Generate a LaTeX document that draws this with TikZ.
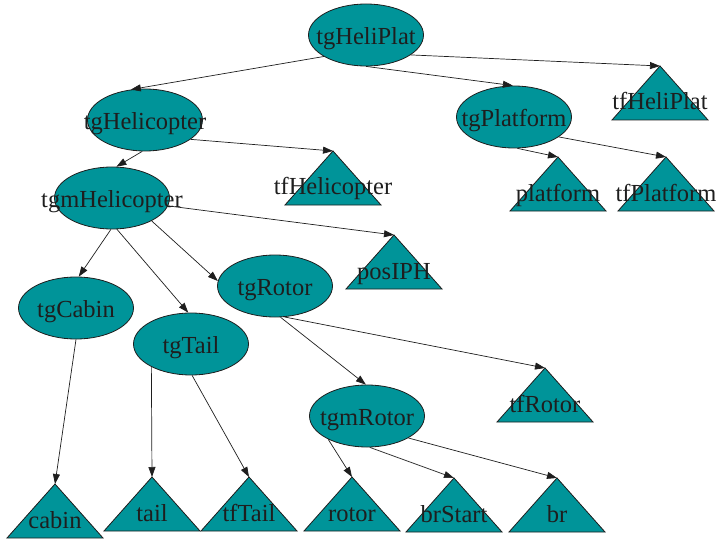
\documentclass[tikz,border=0pt]{standalone}
\usepackage{fontspec}
\setmainfont{Liberation Serif}
\usetikzlibrary{arrows.meta,calc,shapes.geometric}
\definecolor{tealfill}{RGB}{0,148,153}
\definecolor{ink}{RGB}{30,30,30}
\tikzset{
 ell/.style={ellipse,draw=ink,line width=0.8pt,fill=tealfill,minimum width=115pt,minimum height=62pt,inner sep=0pt},
 lbl/.style={font=\fontsize{24.5}{28}\selectfont,text=ink,inner sep=0pt,anchor=base},
 edge/.style={draw=ink,line width=0.7pt,-{Triangle[length=10pt,width=7pt]}},
 trishape/.style={fill=tealfill,draw=ink,line width=0.8pt,line join=miter}
}
\newcommand{\mktri}[4]{%
 \coordinate (#1) at (#2,#3);
 \path[trishape] (#1) -- ++(-48,54) -- ++(96,0) -- cycle;
 \node[lbl] (#1-t) at ($(#1)+(0,44)$) {#4};
}
\newcommand{\mkell}[4]{%
 \node[ell] (#1) at (#2,#3) {};
 \node[lbl] (#1-t) at ($(#1)+(0,9.5)$) {#4};
}
\begin{document}
\begin{tikzpicture}[x=1pt,y=-1pt]
\useasboundingbox (0,0) rectangle (717,540);
\mkell{tgHeliPlat}{366}{35}{tgHeliPlat}
\mkell{tgHelicopter}{145}{120}{tgHelicopter}
\mkell{tgPlatform}{514}{117}{tgPlatform}
\mkell{tgmHelicopter}{112}{198}{tgmHelicopter}
\mkell{tgRotor}{275}{286}{tgRotor}
\mkell{tgCabin}{76}{308}{tgCabin}
\mkell{tgTail}{191}{344}{tgTail}
\mkell{tgmRotor}{367}{416}{tgmRotor}
\mktri{tfHeliPlat}{660}{66}{tfHeliPlat}
\mktri{tfHelicopter}{333}{151}{tfHelicopter}
\mktri{platform}{558}{157}{platform}
\mktri{tfPlatform}{666}{157}{tfPlatform}
\mktri{posIPH}{394}{235}{posIPH}
\mktri{tfRotor}{545}{368}{tfRotor}
\mktri{cabin}{55}{484}{cabin}
\mktri{tail}{152}{477}{tail}
\mktri{tfTail}{249}{477}{tfTail}
\mktri{rotor}{352}{477}{rotor}
\mktri{brStart}{454}{478}{brStart}
\mktri{br}{557}{478}{br}
\draw[edge] (tgHeliPlat.207) -- (tgHelicopter.115);
\draw[edge] (tgHeliPlat.270) -- (tgPlatform.92);
\draw[edge] (tgHeliPlat.336) -- (tfHeliPlat);
\draw[edge] (tgHelicopter.265) -- (tgmHelicopter.82);
\draw[edge] (tgHelicopter.337) -- (tfHelicopter);
\draw[edge] (tgPlatform.276) -- (platform);
\draw[edge] (tgPlatform.336) -- (tfPlatform);
\draw[edge] (tgmHelicopter.268) -- (tgCabin.85);
\draw[edge] (tgmHelicopter.279) -- (tgTail.95);
\draw[edge] (tgmHelicopter.330) -- (tgRotor.175);
\draw[edge] (tgmHelicopter.352) -- (posIPH);
\draw[edge] (tgRotor.280) -- (tgmRotor.92);
\draw[edge] (tgRotor.287) -- (tfRotor);
\draw[edge] (tgCabin.270) -- (cabin);
\draw[edge] (tgTail.210) -- (tail);
\draw[edge] (tgTail.272) -- (tfTail);
\draw[edge] (tgmRotor.211) -- (rotor);
\draw[edge] (tgmRotor.275) -- (brStart);
\draw[edge] (tgmRotor.332) -- (br);
\end{tikzpicture}
\end{document}
